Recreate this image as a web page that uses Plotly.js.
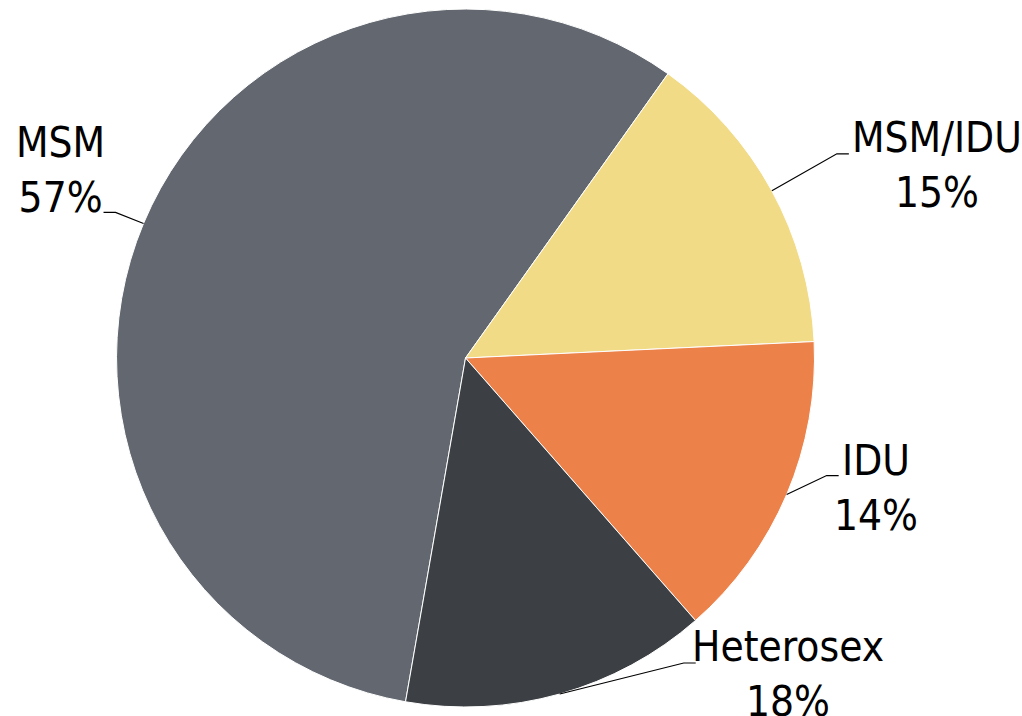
<!DOCTYPE html>
<html>
<head>
<meta charset="utf-8">
<script src="https://cdn.plot.ly/plotly-3.0.1.min.js"></script>
<style>html,body{margin:0;padding:0;background:#fff;overflow:hidden}#chart{width:1022px;height:716px}</style>
</head>
<body>
<div id="chart"></div>
<script>
// ---- data ----
const labels = ['MSM', 'MSM/IDU', 'IDU', 'Heterosex'];
const values = [57.1, 14.4, 14.3, 14.2];
const pctText = ['57%', '15%', '14%', '18%'];
const colors = ['#636870', '#F2DB86', '#EC824A', '#3C3F44'];

// ---- layout settings ----
const W = 1022, H = 716;
const domX = [0.114, 0.797], domY = [0.0126, 0.9874];
const rotation = 189.9;
// leader line elbow offsets (px) from slice edge, horizontal tail length/direction, and label offsets from tail end
const elbow = [[-28, -11], [65, -37], [40, -19], [124, -31]];
const tail = [-12, 12, 12, 12];
const labelOff = [[-43, -42], [88, 11], [37, 12], [92, 11]];
const FONT = '"Liberation Sans Narrow", "Arial Narrow", "DejaVu Sans Condensed", sans-serif';

const cx = (domX[0] + domX[1]) / 2 * W;
const cy = (1 - (domY[0] + domY[1]) / 2) * H;
const R = Math.min((domX[1] - domX[0]) * W, (domY[1] - domY[0]) * H) / 2;

const total = values.reduce((a, b) => a + b, 0);
let ang = rotation;
const shapes = [], annotations = [];
const toPX = x => x / W, toPY = y => 1 - y / H;
values.forEach((v, i) => {
  const span = v / total * 360;
  const mid = (ang + span / 2) * Math.PI / 180;
  ang += span;
  const ex = cx + R * Math.sin(mid), ey = cy - R * Math.cos(mid);
  const bx = ex + elbow[i][0], by = ey + elbow[i][1];
  const tx = bx + tail[i], ty = by;
  shapes.push({
    type: 'path', xref: 'paper', yref: 'paper',
    path: `M ${toPX(ex)},${toPY(ey)} L ${toPX(bx)},${toPY(by)} L ${toPX(tx)},${toPY(ty)}`,
    line: {color: '#000', width: 1.2}
  });
  annotations.push({
    xref: 'paper', yref: 'paper',
    x: toPX(tx + labelOff[i][0]), y: toPY(ty + labelOff[i][1]),
    xanchor: 'center', yanchor: 'middle', align: 'center', showarrow: false,
    text: labels[i] + '<br>' + pctText[i],
    font: {family: FONT, size: 42, color: '#000'}
  });
});

const trace = {
  type: 'pie',
  labels: labels,
  values: values,
  sort: false,
  direction: 'clockwise',
  rotation: rotation,
  textinfo: 'none',
  hoverinfo: 'label+percent',
  marker: {colors: colors, line: {color: '#ffffff', width: 1}},
  domain: {x: domX, y: domY}
};

const layout = {
  width: W, height: H,
  margin: {l: 0, r: 0, t: 0, b: 0},
  showlegend: false,
  paper_bgcolor: '#ffffff',
  shapes: shapes,
  annotations: annotations
};

Plotly.newPlot('chart', [trace], layout, {displayModeBar: false, staticPlot: true});
</script>
</body>
</html>
